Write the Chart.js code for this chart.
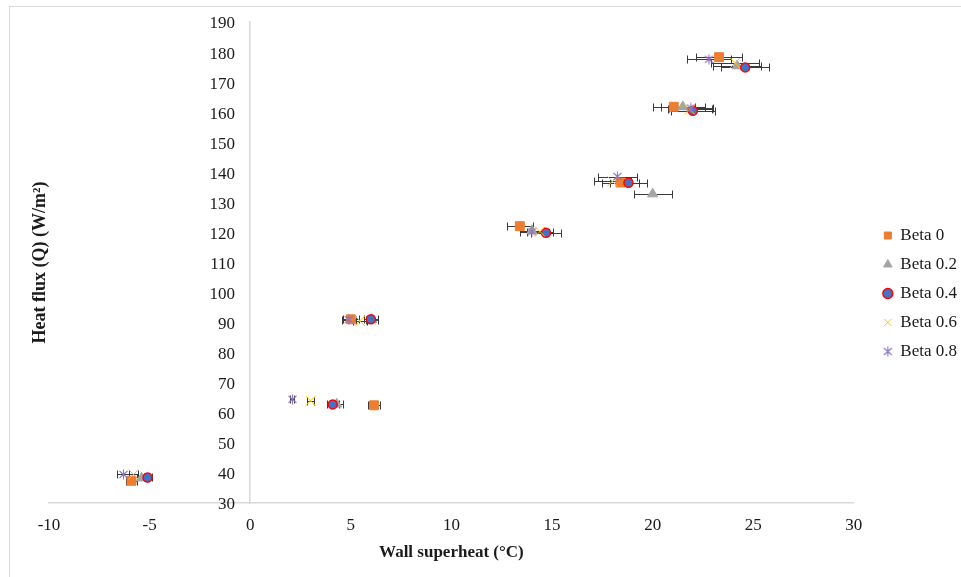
<!DOCTYPE html>
<html><head><meta charset="utf-8">
<script src="https://cdn.jsdelivr.net/npm/chart.js@4.4.0/dist/chart.umd.min.js"></script>
<style>
html,body{margin:0;padding:0;background:#fff;overflow:hidden;}
#wrap{position:relative;width:961px;height:577px;overflow:hidden;}
#frame{position:absolute;left:9px;top:6px;width:1000px;height:1000px;border:1px solid #d9d9d9;pointer-events:none;}
</style></head><body>
<div id="wrap"><canvas id="c"></canvas><div id="frame"></div></div>
<script>
// ---- data ----
const seriesNames = ['Beta 0', 'Beta 0.2', 'Beta 0.4', 'Beta 0.6', 'Beta 0.8'];

const beta0X   = [-5.9, 6.15, 5.0, 13.4, 18.4, 21.05, 23.3];
const beta0Y   = [37.4, 62.5, 91.1, 122.1, 136.6, 161.8, 178.3];
const beta0Err = [0.25, 0.3, 0.4, 0.65, 0.9, 1.05, 1.15];

const beta02X   = [-5.4, 4.3, 6.05, 14.0, 20.0, 21.5, 24.2];
const beta02Y   = [38.3, 62.9, 91.0, 120.6, 132.8, 161.8, 175.4];
const beta02Err = [0.25, 0.3, 0.3, 0.6, 0.95, 1.1, 1.2];

const beta04X   = [-5.1, 4.1, 6.0, 14.7, 18.8, 22.0, 24.6];
const beta04Y   = [38.5, 62.8, 91.1, 119.9, 136.5, 160.5, 174.9];
const beta04Err = [0.2, 0.3, 0.35, 0.75, 0.9, 1.1, 1.2];

const beta06X   = [-5.8, 3.0, 5.45, 14.4, 18.0, 21.85, 24.1];
const beta06Y   = [39.5, 64.0, 90.6, 120.3, 137.0, 160.9, 176.4];
const beta06Err = [0.2, 0.17, 0.35, 0.65, 0.9, 1.1, 1.2];

const beta08X   = [-6.3, 2.1, 4.9, 14.0, 18.25, 21.9, 22.8];
const beta08Y   = [39.5, 64.5, 91.0, 120.2, 138.6, 161.4, 177.6];
const beta08Err = [0.3, 0.1, 0.35, 0.6, 0.95, 1.1, 1.1];

const xTicks = {min: -10, max: 30, step: 5};
const yTicks = {min: 30, max: 190, step: 10};

// ---- helpers ----
function pts(xs, ys) { return xs.map((x, i) => ({x: x, y: ys[i]})); }
function starImage(color) {
  const c = document.createElement('canvas');
  c.width = 11; c.height = 11;
  const g = c.getContext('2d');
  g.strokeStyle = color; g.lineWidth = 1.1;
  g.beginPath();
  g.moveTo(1.5, 2); g.lineTo(9.5, 9);
  g.moveTo(9.5, 2); g.lineTo(1.5, 9);
  g.moveTo(5.5, 0.5); g.lineTo(5.5, 10.5);
  g.stroke();
  return c;
}

const serif = '"Liberation Serif", "Times New Roman", serif';

const errorBars = {
  id: 'errorBars',
  beforeDatasetsDraw(chart) {
    const ctx = chart.ctx, xs = chart.scales.x, ys = chart.scales.y;
    ctx.save();
    ctx.strokeStyle = '#3a3a3a';
    ctx.lineWidth = 1;
    chart.data.datasets.forEach(ds => {
      ds.data.forEach((p, i) => {
        const e = ds.xErr[i];
        const y = Math.round(ys.getPixelForValue(p.y)) + 0.5;
        const x1 = Math.round(xs.getPixelForValue(p.x - e)) + 0.5;
        const x2 = Math.round(xs.getPixelForValue(p.x + e)) + 0.5;
        ctx.beginPath();
        ctx.moveTo(x1, y); ctx.lineTo(x2, y);
        ctx.moveTo(x1, y - 4); ctx.lineTo(x1, y + 4);
        ctx.moveTo(x2, y - 4); ctx.lineTo(x2, y + 4);
        ctx.stroke();
      });
    });
    ctx.restore();
  }
};

const legendShift = {
  id: 'legendShift',
  afterLayout(chart) {
    const l = chart.legend;
    if (!l) return;
    l.left += 18; l.right += 18;
    l.top -= 6; l.bottom -= 6;
  }
};

const data = {
  datasets: [
    {label: seriesNames[0], data: pts(beta0X, beta0Y), xErr: beta0Err, pointStyle: 'rect',
     backgroundColor: '#ED7D31', borderColor: '#ED7D31', borderWidth: 1, pointRadius: 6.3, pointHoverRadius: 6.3, order: 5},
    {label: seriesNames[1], data: pts(beta02X, beta02Y), xErr: beta02Err, pointStyle: 'triangle',
     backgroundColor: '#A5A5A5', borderColor: '#A5A5A5', borderWidth: 1, pointRadius: 5.8, pointHoverRadius: 5.8, order: 4},
    {label: seriesNames[2], data: pts(beta04X, beta04Y), xErr: beta04Err, pointStyle: 'circle',
     backgroundColor: '#4472C4', borderColor: '#FF0000', borderWidth: 1.5, pointRadius: 4.5, pointHoverRadius: 4.5, order: 3},
    {label: seriesNames[3], data: pts(beta06X, beta06Y), xErr: beta06Err, pointStyle: 'crossRot',
     backgroundColor: '#FFC000', borderColor: '#FFC000', borderWidth: 1, pointRadius: 7, pointHoverRadius: 7, order: 2},
    {label: seriesNames[4], data: pts(beta08X, beta08Y), xErr: beta08Err, pointStyle: starImage('#8C74C0'),
     backgroundColor: '#8C74C0', borderColor: '#8C74C0', borderWidth: 1, pointRadius: 6, pointHoverRadius: 6, order: 1}
  ]
};

const tickFont = {family: serif, size: 17};
const hiddenGrid = {display: true, drawOnChartArea: false, drawTicks: false, color: 'rgba(0,0,0,0)'};

new Chart(document.getElementById('c'), {
  type: 'scatter',
  data: data,
  plugins: [errorBars, legendShift],
  options: {
    responsive: true,
    maintainAspectRatio: false,
    animation: false,
    layout: {padding: {left: 20, top: 22, right: 12, bottom: 0}},
    plugins: {
      tooltip: {enabled: false},
      legend: {
        position: 'right',
        labels: {
          usePointStyle: true,
          boxWidth: 8, boxHeight: 7,
          padding: 12,
          color: '#1a1a1a',
          font: {family: serif, size: 17},
          sort: (a, b) => a.datasetIndex - b.datasetIndex
        }
      }
    },
    scales: {
      x: {
        type: 'linear', position: 'bottom',
        min: xTicks.min, max: xTicks.max,
        afterFit: s => { s.height = 74; },
        ticks: {stepSize: xTicks.step, color: '#1a1a1a', font: tickFont, padding: 12, maxRotation: 0},
        grid: hiddenGrid,
        border: {display: true, color: '#d9d9d9', width: 1.5},
        title: {display: true, text: 'Wall superheat (°C)', color: '#1a1a1a',
                font: {family: serif, size: 17, weight: 'bold'}, padding: {top: 0, bottom: 14}}
      },
      y: {
        type: 'linear', position: {x: 0},
        min: yTicks.min, max: yTicks.max,
        ticks: {display: false, stepSize: yTicks.step},
        grid: hiddenGrid,
        border: {display: true, color: '#d9d9d9', width: 1.5},
        title: {display: false}
      },
      yLabels: {
        type: 'linear', axis: 'y', position: {x: -0.75},
        min: yTicks.min, max: yTicks.max,
        ticks: {stepSize: yTicks.step, color: '#1a1a1a', font: tickFont, labelOffset: 2},
        grid: {display: false},
        border: {display: false},
        title: {display: false}
      },
      yTitle: {
        type: 'linear', position: 'left', axis: 'y',
        afterFit: s => { s.width = 29; },
        ticks: {display: false},
        grid: {display: false},
        border: {display: false},
        title: {display: true, text: 'Heat flux (Q) (W/m²)', color: '#1a1a1a',
                font: {family: serif, size: 18, weight: 'bold'}, padding: {top: 10, bottom: 0}}
      }
    }
  }
});
</script>
</body></html>
